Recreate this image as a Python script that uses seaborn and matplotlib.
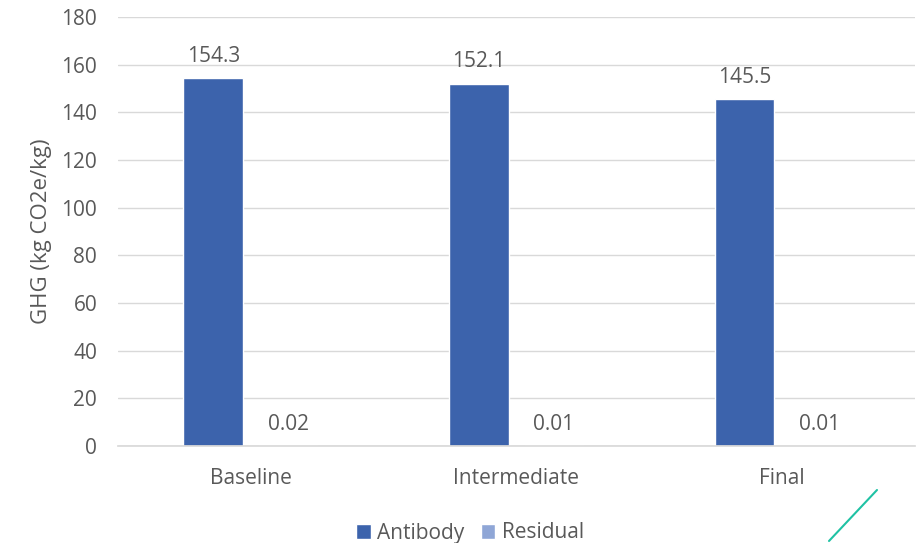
import matplotlib
matplotlib.use("Agg")
import matplotlib.pyplot as plt
from matplotlib.lines import Line2D
import seaborn as sns
import pandas as pd

# Chart data
stages = ["Baseline", "Intermediate", "Final"]
antibody = [154.3, 152.1, 145.5]
residual = [0.02, 0.01, 0.01]
series_names = ["Antibody", "Residual"]
y_ticks = [0, 20, 40, 60, 80, 100, 120, 140, 160, 180]

df = pd.DataFrame({
    "Stage": stages * 2,
    "Series": [series_names[0]] * 3 + [series_names[1]] * 3,
    "GHG": antibody + residual,
})

sns.set_theme(style="white")
plt.rcParams["font.family"] = ["Open Sans", "DejaVu Sans"]
text_grey = "#595959"
colors = {"Antibody": "#3C63AC", "Residual": "#8FA6D6"}
fs = 15

fig = plt.figure(figsize=(9.18, 5.43), dpi=100)
ax = fig.add_axes([0.1285, 0.1786, 0.868, 0.790])

sns.barplot(data=df, x="Stage", y="GHG", hue="Series", palette=colors,
            width=0.564, gap=0.2, ax=ax, legend=True, saturation=1)

# Value labels above each bar
for container, vals in zip(ax.containers, [antibody, residual]):
    for bar, v in zip(container, vals):
        ax.annotate(f"{v:g}" if v >= 1 else f"{v:.2f}",
                    (bar.get_x() + bar.get_width() / 2, v),
                    xytext=(0, 8), textcoords="offset points",
                    ha="center", va="bottom", fontsize=fs, color=text_grey)

ax.set_ylim(0, 180)
ax.set_xlim(-0.5, 2.5)
ax.set_yticks(y_ticks)
ax.yaxis.grid(True, color="#D9D9D9", linewidth=1)
ax.set_axisbelow(True)
for s in ["top", "right", "left"]:
    ax.spines[s].set_visible(False)
ax.spines["bottom"].set_color("#D9D9D9")
ax.tick_params(axis="both", length=0, labelsize=fs, colors=text_grey, pad=15)
ax.tick_params(axis="x", pad=16)
ax.set_xlabel("")
ax.set_ylabel("GHG (kg CO2e/kg)", fontsize=16, color=text_grey, labelpad=7)

handles, labels = ax.get_legend_handles_labels()
ax.legend(handles, labels, loc="center", bbox_to_anchor=(470 / 918, 10 / 543),
          bbox_transform=fig.transFigure, ncol=2, frameon=False, fontsize=fs,
          labelcolor=text_grey, handlelength=0.7, handleheight=0.7,
          handletextpad=0.3, columnspacing=0.8)

# Decorative accent stroke in the lower-right corner
fig.add_artist(Line2D([829 / 918, 877 / 918], [2 / 543, 53 / 543],
                      transform=fig.transFigure, color="#1FC2A4", linewidth=1.5))

fig.savefig("out.png", dpi=100)
